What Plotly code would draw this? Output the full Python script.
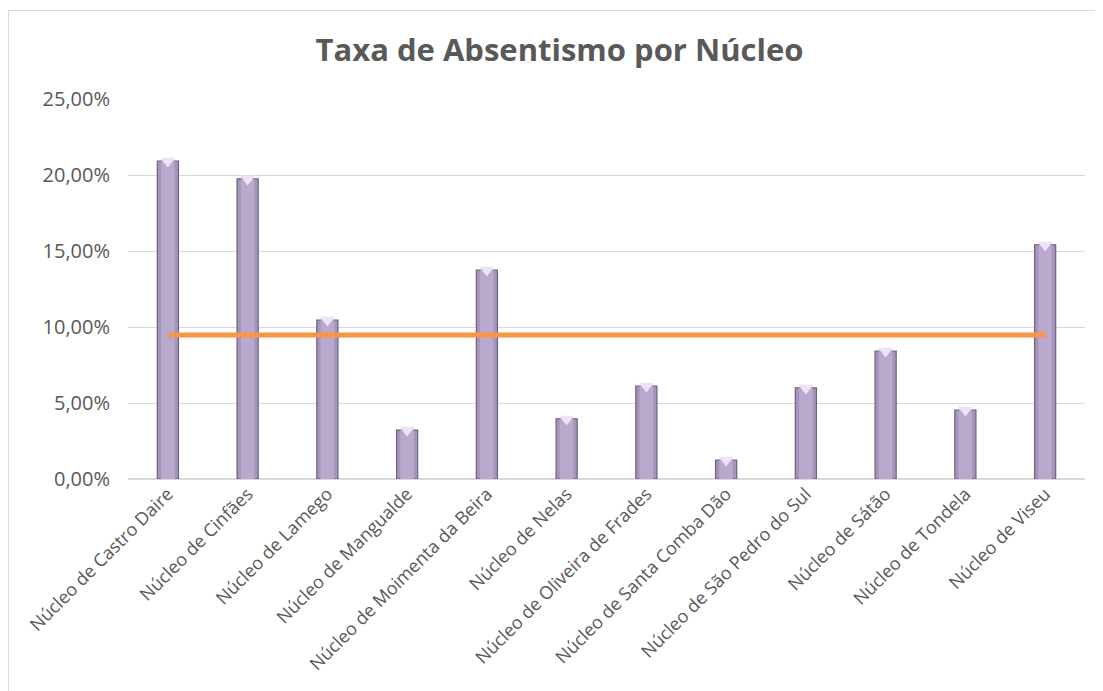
import plotly.graph_objects as go

categories = [
    "Núcleo de Castro Daire", "Núcleo de Cinfães", "Núcleo de Lamego",
    "Núcleo de Mangualde", "Núcleo de Moimenta da Beira", "Núcleo de Nelas",
    "Núcleo de Oliveira de Frades", "Núcleo de Santa Comba Dão",
    "Núcleo de São Pedro do Sul", "Núcleo de Sátão", "Núcleo de Tondela",
    "Núcleo de Viseu",
]
taxa = [0.2092, 0.1974, 0.1046, 0.0322, 0.1375, 0.0395, 0.0612, 0.0125,
        0.0599, 0.0842, 0.0454, 0.1540]
media = [0.0947] * len(categories)
y_ticks = [0, 0.05, 0.10, 0.15, 0.20, 0.25]

fig = go.Figure()
# main bar body
fig.add_trace(go.Bar(
    x=categories, y=taxa, width=0.265,
    marker=dict(color="#A594BC", line=dict(color="#6E5F82", width=1.2)),
    showlegend=False, hoverinfo="x+y",
))
# lighter centre to mimic the bevel
fig.add_trace(go.Bar(
    x=categories, y=taxa, width=0.17,
    marker=dict(color="#B9AACD", line=dict(width=0)),
    showlegend=False, hoverinfo="skip",
))
# light bevel triangle at top of each bar
fig.add_trace(go.Scatter(
    x=categories, y=taxa, mode="markers",
    marker=dict(symbol="triangle-down", size=13, color="#ECE4F4", line=dict(width=0)),
    showlegend=False, hoverinfo="skip", cliponaxis=False,
))
fig.add_trace(go.Scatter(
    x=categories, y=media, mode="lines",
    line=dict(color="#F79646", width=5),
    showlegend=False,
))

fig.update_layout(
    width=1103, height=691,
    paper_bgcolor="white", plot_bgcolor="white",
    margin=dict(l=120, r=26, t=91, b=220, autoexpand=False),
    separators=",.",
    barmode="overlay",
    font=dict(family="Open Sans, sans-serif", color="#595959"),
    title=dict(text="<b>Taxa de Absentismo por Núcleo</b>", x=0.5, xanchor="center",
               xref="container", y=0.939, yanchor="middle",
               font=dict(size=31, color="#595959", family="Open Sans, sans-serif")),
)
fig.update_yaxes(range=[0, 0.25], tickvals=y_ticks, tickformat=".2%",
                 showgrid=True, gridcolor="#D9D9D9", gridwidth=1,
                 zeroline=True, zerolinecolor="#D9D9D9", zerolinewidth=1.5,
                 tickfont=dict(size=20, color="#595959"), ticks="",
                 ticklabelstandoff=17, automargin=False)
fig.update_xaxes(range=[-0.5, len(categories) - 0.5],
                 tickangle=-45, tickfont=dict(size=18, color="#595959"),
                 showgrid=False, ticks="", showline=False, automargin=False)

# chart border
fig.add_shape(type="rect", xref="paper", yref="paper",
              x0=-0.1249, x1=1.027, y0=-1, y1=1.2329,
              line=dict(color="#D9D9D9", width=1), layer="below")

fig.write_html("out.html")
